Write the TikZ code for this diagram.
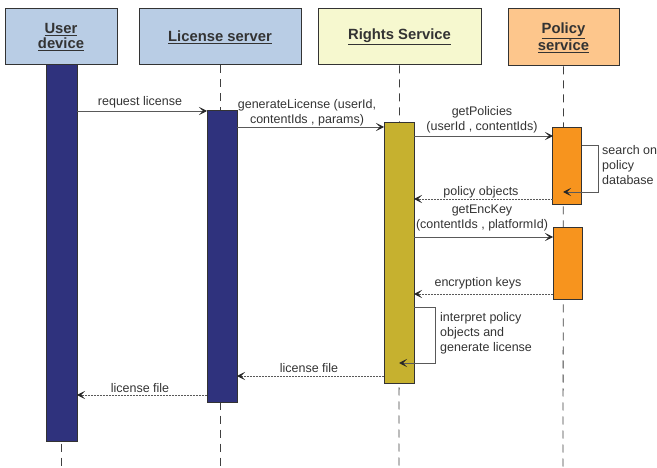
\documentclass[tikz,border=0pt]{standalone}
\usepackage{fontspec}
\setmainfont{Liberation Sans}
\usetikzlibrary{arrows.meta}

\definecolor{hdrblue}{HTML}{B9CDE5}
\definecolor{hdryellow}{HTML}{F6F8CF}
\definecolor{hdrorange}{HTML}{FDC68C}
\definecolor{barblue}{HTML}{2F327D}
\definecolor{barolive}{HTML}{C6B12F}
\definecolor{barorange}{HTML}{F7941E}

\begin{document}
\begin{tikzpicture}[x=1pt, y=-1pt,
    hdr/.style={draw=black!80, line width=1pt, minimum height=56pt, align=center,
        font=\fontsize{14.8}{15.5}\selectfont\bfseries, text=black!80},
    bar/.style={draw=black!80, line width=1pt},
    life/.style={black!75, line width=0.8pt, dash pattern=on 8pt off 6pt},
    msg/.style={black!65, line width=0.8pt, -{Stealth[length=8pt,width=8pt,inset=4pt,black!85]}},
    ret/.style={msg, dash pattern=on 2pt off 1pt},
    lbl/.style={font=\fontsize{12.5}{15}\selectfont, text=black!80, align=center, inner sep=0pt},
    note/.style={lbl, align=left, anchor=north west}]
    \useasboundingbox (0,0) rectangle (657,468);

    % headers
    \node (ud) at (61,37) [hdr, fill=hdrblue, minimum width=112pt] {\underline{User}\\\underline{device}};
    \node (ls) at (220,37) [hdr, fill=hdrblue, minimum width=162pt] {\underline{License server}};
    \node (rs) at (399.5,37) [hdr, fill=hdryellow, minimum width=163pt] {\underline{Rights Service}};
    \node (ps) at (563.5,37.5) [hdr, fill=hdrorange, minimum width=111pt, minimum height=57pt] {\underline{Policy}\\\underline{service}};

    % lifelines
    \coordinate (udend) at (61,468);
    \coordinate (lsend) at (220,468);
    \coordinate (rsend) at (399,468);
    \coordinate (psend) at (563,468);
    \draw[life] (ud.south) -- (udend);
    \draw[life] (ls.south) -- (lsend);
    \draw[life] (rs.south) -- (rsend);
    \draw[life] (ps.south) -- (psend);

    % activations
    \node (udbar) at (61.5,253) [bar, fill=barblue, minimum width=31pt, minimum height=376pt] {};
    \node (lsbar) at (222,256.5) [bar, fill=barblue, minimum width=30pt, minimum height=291pt] {};
    \node (rsbar) at (399,253) [bar, fill=barolive, minimum width=30pt, minimum height=260pt] {};
    \node (psbar1) at (567,166.5) [bar, fill=barorange, minimum width=29pt, minimum height=77pt] {};
    \node (psbar2) at (567.5,264) [bar, fill=barorange, minimum width=29pt, minimum height=72pt] {};

    % message ends
    \coordinate (req1) at (77,111);   \coordinate (req2) at (207,111);
    \coordinate (gen1) at (237,127);  \coordinate (gen2) at (384,127);
    \coordinate (pol1) at (414,136);  \coordinate (pol2) at (553,136);
    \coordinate (srch1) at (582,145); \coordinate (srch2) at (598,145); \coordinate (srch3) at (563,192);
    \coordinate (obj1) at (553,199);  \coordinate (obj2) at (414,199);
    \coordinate (key1) at (414,237);  \coordinate (key2) at (553,237);
    \coordinate (enc1) at (553,294);  \coordinate (enc2) at (414,294);
    \coordinate (intp1) at (414,307); \coordinate (intp2) at (435,307); \coordinate (intp3) at (399,363);
    \coordinate (lf1) at (384,376);   \coordinate (lf2) at (237,376);
    \coordinate (lf3) at (207,395);   \coordinate (lf4) at (77,395);

    \draw[msg] (req1) -- (req2);
    \draw[msg] (gen1) -- (gen2);
    \draw[msg] (pol1) -- (pol2);
    \draw[msg] (srch1) -- (srch2) |- (srch3);
    \draw[ret] (obj1) -- (obj2);
    \draw[msg] (key1) -- (key2);
    \draw[ret] (enc1) -- (enc2);
    \draw[msg] (intp1) -- (intp2) |- (intp3);
    \draw[ret] (lf1) -- (lf2);
    \draw[ret] (lf3) -- (lf4);

    % labels
    \node (reqlbl) at (140,102) [lbl] {request license};
    \node (genlbl) at (307,113) [lbl] {generateLicense (userId,\\contentIds , params)};
    \node (pollbl) at (482,120) [lbl] {getPolicies\\(userId , contentIds)};
    \node (srchlbl) at (602,145) [note] {search on\\policy\\database};
    \node (objlbl) at (481,192) [lbl] {policy objects};
    \node (keylbl) at (482,218) [lbl] {getEncKey\\(contentIds , platformId)};
    \node (enclbl) at (478,283) [lbl] {encryption keys};
    \node (intplbl) at (440,312) [note] {interpret policy\\objects and\\generate license};
    \node (lf1lbl) at (309,368) [lbl] {license file};
    \node (lf2lbl) at (140,388) [lbl] {license file};
\end{tikzpicture}
\end{document}
